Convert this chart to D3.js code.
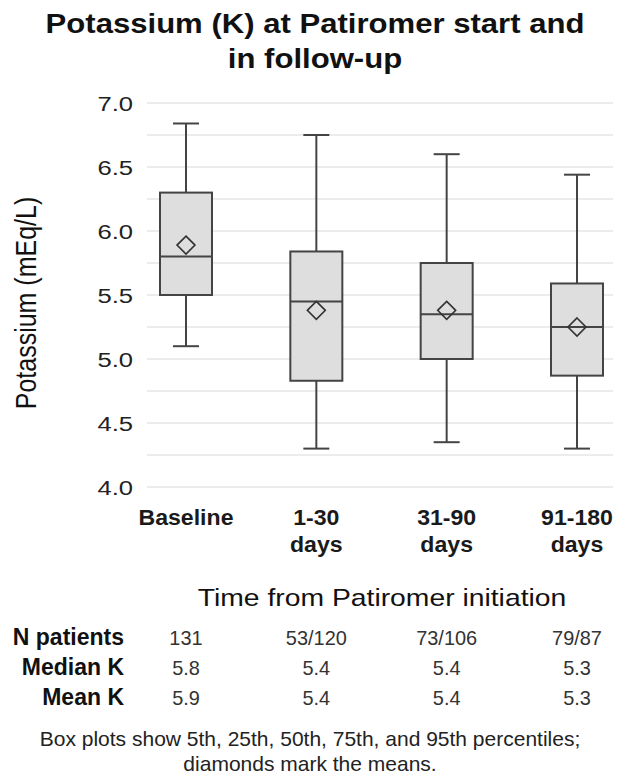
<!DOCTYPE html>
<html>
<head>
<meta charset="utf-8">
<script src="https://cdn.jsdelivr.net/npm/d3@7"></script>
<style>
  body { margin: 0; background: #fff; }
  text { font-family: "Liberation Sans", Arial, sans-serif; }
</style>
</head>
<body>
<script>
// categories and box stats
const categories = ["Baseline", "1-30 days", "31-90 days", "91-180 days"]
const p5  = [5.10, 4.30, 4.35, 4.30]
const p25 = [5.50, 4.83, 5.00, 4.87]
const p50 = [5.80, 5.45, 5.35, 5.25]
const p75 = [6.30, 5.84, 5.75, 5.59]
const p95 = [6.84, 6.75, 6.60, 6.44]
const means = [5.89, 5.38, 5.38, 5.25]

// table below the chart
const rowLabels = ["N patients", "Median K", "Mean K"]
const nPatients = ["131", "53/120", "73/106", "79/87"]
const medianK = ["5.8", "5.4", "5.4", "5.3"]
const meanK = ["5.9", "5.4", "5.4", "5.3"]

const yTicks = [4.0, 4.5, 5.0, 5.5, 6.0, 6.5, 7.0]

const w = 619
const h = 780

let svg = d3.select("body")
            .append("svg")
            .attr("width", w)
            .attr("height", h)

//the source figure is a bit wider than Arial, so text gets a horizontal stretch
function label(g, x, y, str, size, sx, opts) {
    opts = opts || {}
    return g.append("text")
        .attr("transform", "translate(" + x + "," + y + ") scale(" + sx + ",1)")
        .attr("text-anchor", opts.anchor || "middle")
        .attr("font-size", size + "px")
        .attr("font-weight", opts.weight || "normal")
        .attr("fill", opts.fill || "#111")
        .text(str)
}

//scales
let x = d3.scalePoint()
          .domain(categories)
          .range([186, 577])

let y = d3.scaleLinear()
          .domain([4, 7])
          .range([487, 103])

const boxW = 52
const capW = 26

//title
label(svg, 315, 33, "Potassium (K) at Patiromer start and", 28, 1.11, {weight: "bold"})
label(svg, 315, 68, "in follow-up", 28, 1.11, {weight: "bold"})

//gridlines every 0.25
svg.append("g")
    .selectAll("line")
    .data(d3.range(4, 7.01, 0.25))
    .enter()
    .append("line")
    .attr("x1", 147).attr("x2", 613)
    .attr("y1", d => y(d)).attr("y2", d => y(d))
    .attr("stroke", "#e6e6e6")
    .attr("stroke-width", 1.5)

//y axis labels only
let yAxis = svg.append("g")
    .attr("transform", "translate(133,0)")
    .call(d3.axisLeft(y).tickValues(yTicks).tickFormat(d3.format(".1f")).tickSize(0).tickPadding(0))
yAxis.select(".domain").remove()
yAxis.selectAll(".tick text")
    .attr("x", null).attr("dy", null)
    .attr("transform", "translate(0,7.5) scale(1.22,1)")
    .attr("font-family", "Liberation Sans, Arial, sans-serif")
    .attr("font-size", "21px")
    .attr("fill", "#222")

svg.append("text")
    .attr("transform", "translate(36,303) rotate(-90) scale(1,1.2)")
    .attr("text-anchor", "middle")
    .attr("font-size", "25px")
    .attr("fill", "#111")
    .text("Potassium (mEq/L)")

//boxes
let boxes = svg.append("g")
    .selectAll("g")
    .data(categories)
    .enter()
    .append("g")

const stroke = "#444"

boxes.append("line")
    .attr("x1", d => x(d)).attr("x2", d => x(d))
    .attr("y1", (d, i) => y(p95[i])).attr("y2", (d, i) => y(p75[i]))
    .attr("stroke", stroke).attr("stroke-width", 2)
boxes.append("line")
    .attr("x1", d => x(d)).attr("x2", d => x(d))
    .attr("y1", (d, i) => y(p25[i])).attr("y2", (d, i) => y(p5[i]))
    .attr("stroke", stroke).attr("stroke-width", 2)
boxes.append("line")
    .attr("x1", d => x(d) - capW/2).attr("x2", d => x(d) + capW/2)
    .attr("y1", (d, i) => y(p95[i])).attr("y2", (d, i) => y(p95[i]))
    .attr("stroke", stroke).attr("stroke-width", 2)
boxes.append("line")
    .attr("x1", d => x(d) - capW/2).attr("x2", d => x(d) + capW/2)
    .attr("y1", (d, i) => y(p5[i])).attr("y2", (d, i) => y(p5[i]))
    .attr("stroke", stroke).attr("stroke-width", 2)
boxes.append("rect")
    .attr("x", d => x(d) - boxW/2)
    .attr("y", (d, i) => y(p75[i]))
    .attr("width", boxW)
    .attr("height", (d, i) => y(p25[i]) - y(p75[i]))
    .attr("fill", "#dedede")
    .attr("stroke", stroke).attr("stroke-width", 2)
boxes.append("line")
    .attr("x1", d => x(d) - boxW/2).attr("x2", d => x(d) + boxW/2)
    .attr("y1", (d, i) => y(p50[i])).attr("y2", (d, i) => y(p50[i]))
    .attr("stroke", stroke).attr("stroke-width", 2)
boxes.append("path")
    .attr("transform", (d, i) => "translate(" + x(d) + "," + y(means[i]) + ")")
    .attr("d", "M0,-9 L9,0 L0,9 L-9,0 Z")
    .attr("fill", "none")
    .attr("stroke", "#333").attr("stroke-width", 1.6)

//category labels, split over two lines
let catG = svg.append("g")
categories.forEach(function(d) {
    let parts = d === "Baseline" ? [d] : d.split(" ")
    parts.forEach(function(p, j) {
        label(catG, x(d), 525 + j * 27, p, 22, 1.05, {weight: "bold", fill: "#1a1a1a"})
    })
})

label(svg, 382, 606, "Time from Patiromer initiation", 24, 1.18)

//table
const rows = [nPatients, medianK, meanK]
const rowY = [645, 675, 705]
let tableG = svg.append("g")
rowLabels.forEach(function(d, i) {
    label(tableG, 124, rowY[i], d, 23, 1, {anchor: "end", weight: "bold"})
})
rows.forEach(function(row, r) {
    row.forEach(function(v, i) {
        label(tableG, x(categories[i]), rowY[r], v, 21, 0.95, {fill: "#333"})
    })
})

//footnote
label(svg, 310, 746, "Box plots show 5th, 25th, 50th, 75th, and 95th percentiles;", 21, 1.0, {fill: "#222"})
label(svg, 310, 771, "diamonds mark the means.", 21, 1.0, {fill: "#222"})
</script>
</body>
</html>
